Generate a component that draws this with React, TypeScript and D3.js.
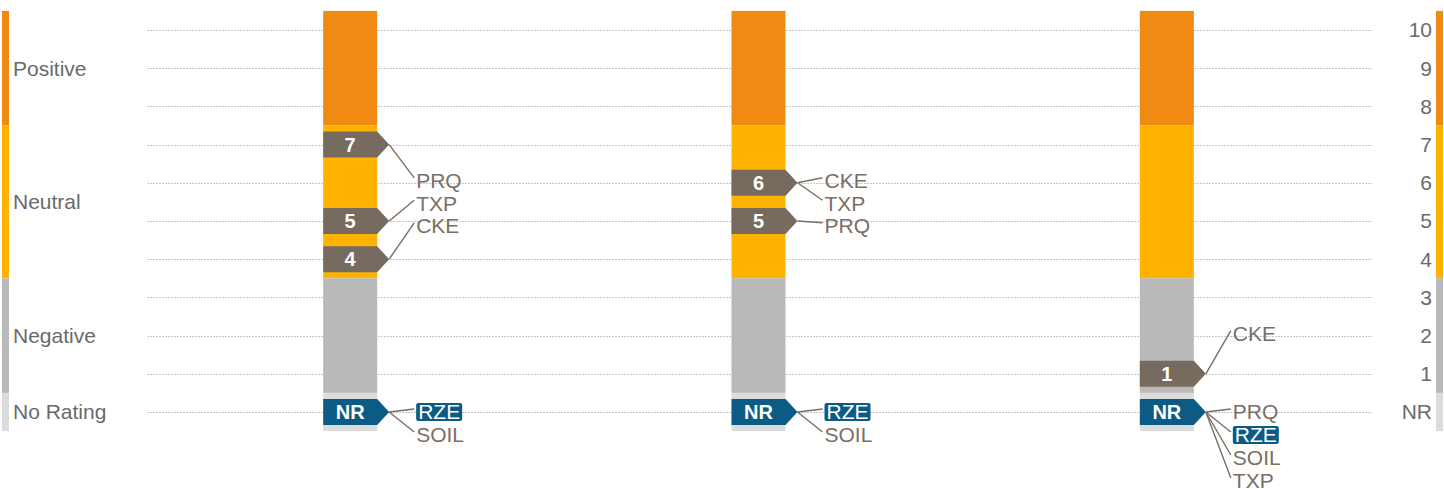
import React, { useEffect, useRef } from "react";
import * as d3 from "d3";

const W = 1444;
const H = 489;

const tickValues = [0, 1, 2, 3, 4, 5, 6, 7, 8, 9, 10];
const tickLabels = ["NR", "1", "2", "3", "4", "5", "6", "7", "8", "9", "10"];

const bandNames = ["Positive", "Neutral", "Negative", "No Rating"];
const bandFrom = [7.5, 3.5, 0.5, -0.5];
const bandTo = [10.5, 7.5, 3.5, 0.5];
const bandColors = ["#F08A12", "#FFB300", "#B9B9B9", "#DCDCDC"];

const columns = ["A", "B", "C"];

// markers per column: value and attached labels
const col1Markers = [
  { value: 7, labels: ["PRQ"] },
  { value: 5, labels: ["TXP"] },
  { value: 4, labels: ["CKE"] },
];
const col2Markers = [
  { value: 6, labels: ["CKE", "TXP"] },
  { value: 5, labels: ["PRQ"] },
];
const col3Markers = [{ value: 1, labels: ["CKE"] }];
const markersByColumn = [col1Markers, col2Markers, col3Markers];

const nrLabelsByColumn = [
  ["RZE", "SOIL"],
  ["RZE", "SOIL"],
  ["PRQ", "RZE", "SOIL", "TXP"],
];
const highlighted = ["RZE"];
// value at which each column's rated label stack starts
const labelStartValue = [6, 6, 2];

const FONT = "'Liberation Sans', Arial, sans-serif";
const LABEL_COLOR = "#7A6E64";
const MARKER_COLOR = "#776B60";
const NR_COLOR = "#0B5B84";

export default function App() {
  const ref = useRef<SVGSVGElement | null>(null);

  useEffect(() => {
    const svg = d3.select(ref.current);
    svg.selectAll("*").remove();

    const y = d3.scaleLinear().domain([0, 10]).range([412, 30]);
    const x = d3.scaleBand<string>().domain(columns).range([146, 1371]);
    const colW = 54;
    const mH = 26;
    const tipW = 12;

    // gridlines
    svg
      .append("g")
      .selectAll("line")
      .data(tickValues)
      .join("line")
      .attr("x1", 147)
      .attr("x2", 1372)
      .attr("y1", (d) => Math.round(y(d)) + 0.5)
      .attr("y2", (d) => Math.round(y(d)) + 0.5)
      .attr("stroke", "#C8C8C8")
      .attr("stroke-width", 1)
      .attr("stroke-dasharray", "2,1");

    const bands = bandNames.map((n, i) => ({
      name: n,
      from: bandFrom[i],
      to: bandTo[i],
      color: bandColors[i],
    }));

    // left and right side bars
    [2, 1436].forEach((bx) => {
      svg
        .append("g")
        .selectAll("rect")
        .data(bands)
        .join("rect")
        .attr("x", bx)
        .attr("width", 7)
        .attr("y", (d) => y(d.to))
        .attr("height", (d) => y(d.from) - y(d.to))
        .attr("fill", (d) => d.color);
    });

    // left legend labels
    svg
      .append("g")
      .selectAll("text")
      .data(bands)
      .join("text")
      .attr("x", 13)
      .attr("y", (d) => y((d.from + d.to) / 2))
      .attr("dy", "0.35em")
      .attr("font-family", FONT)
      .attr("font-size", 21)
      .attr("fill", "#6A6A6A")
      .text((d) => d.name);

    // right tick labels
    svg
      .append("g")
      .selectAll("text")
      .data(tickValues)
      .join("text")
      .attr("x", 1432)
      .attr("y", (d) => y(d))
      .attr("dy", "0.35em")
      .attr("text-anchor", "end")
      .attr("font-family", FONT)
      .attr("font-size", 21)
      .attr("fill", "#6A6A6A")
      .text((d, i) => tickLabels[i]);

    columns.forEach((c, ci) => {
      const left = (x(c) as number) + x.bandwidth() / 2 - colW / 2;
      const g = svg.append("g");
      g.selectAll("rect")
        .data(bands)
        .join("rect")
        .attr("x", left)
        .attr("width", colW)
        .attr("y", (d) => y(d.to))
        .attr("height", (d) => y(d.from) - y(d.to))
        .attr("fill", (d) => d.color);

      const tipX = left + colW + tipW;
      const labelX = left + 93;

      const drawMarker = (value: number, text: string, fill: string) => {
        const cy = y(value);
        const path = d3.path();
        path.moveTo(left, cy - mH / 2);
        path.lineTo(left + colW, cy - mH / 2);
        path.lineTo(tipX, cy);
        path.lineTo(left + colW, cy + mH / 2);
        path.lineTo(left, cy + mH / 2);
        path.closePath();
        g.append("path").attr("d", path.toString()).attr("fill", fill);
        g.append("text")
          .attr("x", left + colW / 2)
          .attr("y", cy)
          .attr("dy", "0.36em")
          .attr("text-anchor", "middle")
          .attr("font-family", FONT)
          .attr("font-weight", "bold")
          .attr("font-size", 20)
          .attr("fill", "#FFFFFF")
          .text(text);
      };

      const drawLabel = (fromY: number, ly: number, name: string) => {
        g.append("line")
          .attr("x1", tipX)
          .attr("y1", fromY)
          .attr("x2", labelX - 2)
          .attr("y2", ly - 3)
          .attr("stroke", LABEL_COLOR)
          .attr("stroke-width", 1.4);
        const isHi = highlighted.includes(name);
        const rect = isHi ? g.append("rect") : null;
        const t = g
          .append("text")
          .attr("x", labelX + (isHi ? 2 : 0))
          .attr("y", ly)
          .attr("dy", "0.35em")
          .attr("font-family", FONT)
          .attr("font-size", 21)
          .attr("fill", isHi ? "#FFFFFF" : LABEL_COLOR)
          .text(name);
        if (rect) {
          const bb = (t.node() as SVGTextElement).getBBox();
          rect
            .attr("x", bb.x - 2)
            .attr("y", ly - 9)
            .attr("width", bb.width + 4)
            .attr("height", 18)
            .attr("rx", 2)
            .attr("fill", NR_COLOR);
        }
      };

      // rated markers
      const markers = markersByColumn[ci];
      markers.forEach((m) => drawMarker(m.value, String(m.value), MARKER_COLOR));
      let li = 0;
      markers.forEach((m) => {
        m.labels.forEach((name) => {
          const ly = y(labelStartValue[ci]) - 2 + li * 22.5;
          drawLabel(y(m.value), ly, name);
          li++;
        });
      });

      // NR marker
      drawMarker(0, "NR", NR_COLOR);
      nrLabelsByColumn[ci].forEach((name, i) => {
        drawLabel(y(0), y(0) + i * 23, name);
      });
    });
  }, []);

  return (
    <svg
      ref={ref}
      width={W}
      height={H}
      style={{ position: "absolute", left: 0, top: 0, background: "#fff" }}
    />
  );
}
